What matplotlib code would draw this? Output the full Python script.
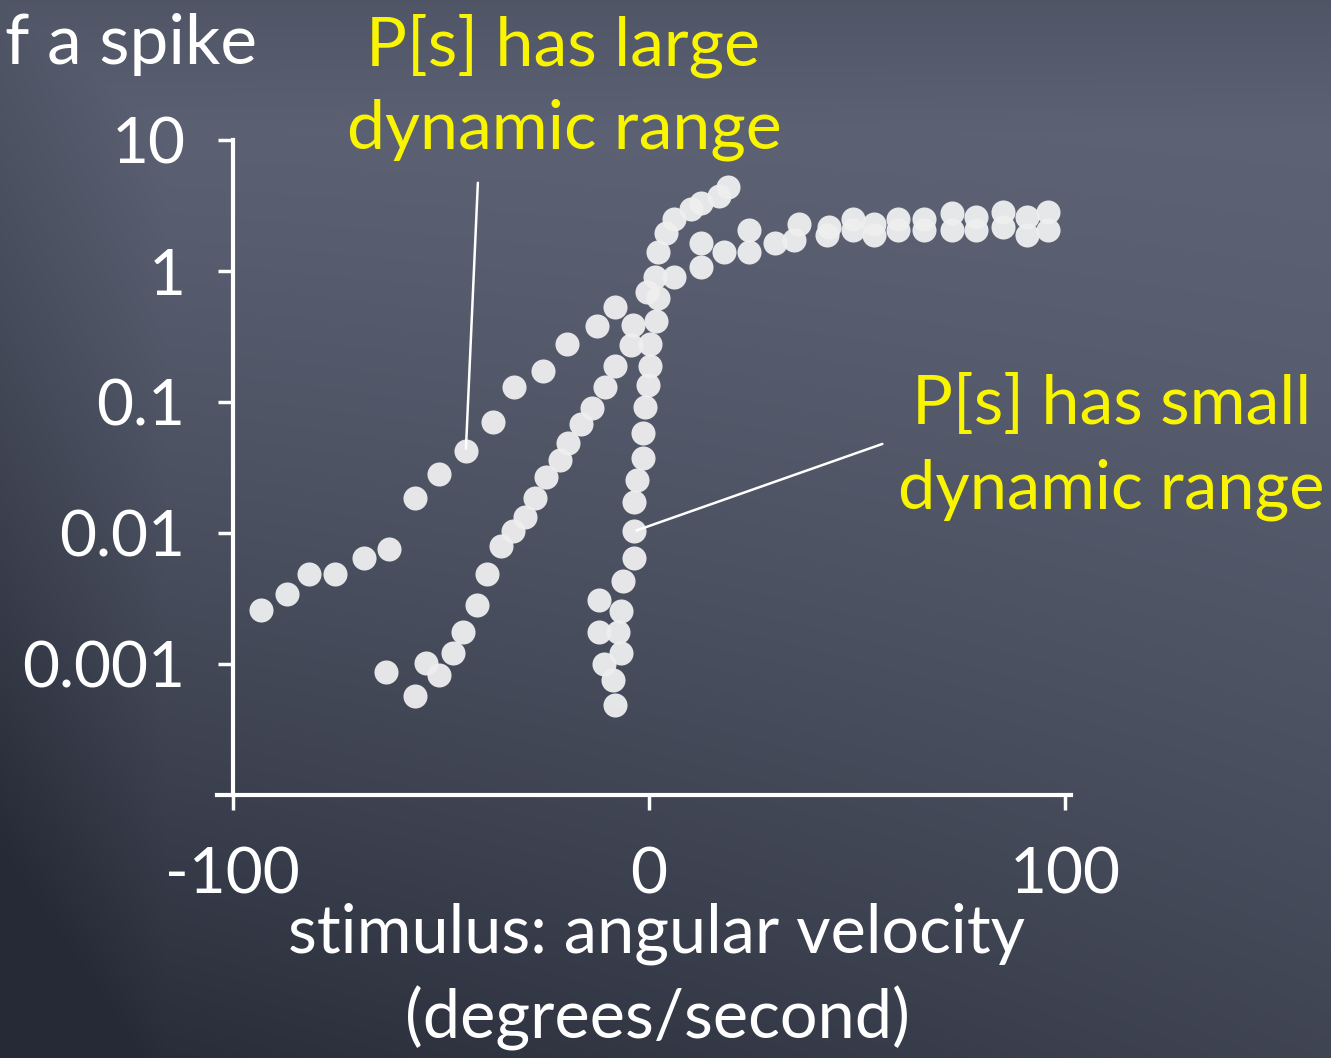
import numpy as np
import matplotlib
matplotlib.use("Agg")
import matplotlib.pyplot as plt

plt.rcParams["font.family"] = ["Lato", "DejaVu Sans"]

# spike probability vs angular velocity, three stimulus ensembles
wide_x = [-93.3, -87.0, -81.7, -75.5, -68.5, -62.5, -56.3, -50.5, -44.0, -37.5,
          -32.5, -25.5, -19.7, -12.5, -8.2, -0.5, 6.0, 12.5, 18.0, 24.0,
          30.3, 34.9, 42.8, 49.0, 54.1, 59.9, 66.1, 72.8, 78.6, 85.1, 90.9, 95.9]
wide_p = [0.00257, 0.0034, 0.0049, 0.0049, 0.0065, 0.0075, 0.0184, 0.028, 0.042, 0.071,
          0.131, 0.173, 0.279, 0.382, 0.533, 0.693, 0.903, 1.08, 1.40, 1.40,
          1.64, 1.73, 1.89, 2.06, 1.89, 2.06, 2.06, 2.06, 2.06, 2.17, 1.89, 2.06]

mid_x = [-63.2, -56.3, -53.6, -50.5, -47.1, -44.7, -41.3, -38.9, -35.6, -32.7,
         -29.8, -27.4, -24.8, -21.4, -19.5, -16.3, -13.7, -10.6, -8.2, -4.3,
         -3.8, 1.4, 12.5, 24.0, 36.1, 43.3, 49.0, 54.1, 59.9, 66.1,
         72.8, 78.6, 85.1, 90.9, 95.9]
mid_p = [0.00087, 0.00057, 0.00101, 0.00082, 0.00121, 0.00175, 0.0028, 0.0049, 0.0079, 0.0103,
         0.0132, 0.0184, 0.0266, 0.0364, 0.0491, 0.0684, 0.0906, 0.131, 0.189, 0.274,
         0.389, 0.903, 1.64, 2.06, 2.29, 2.17, 2.50, 2.29, 2.50, 2.50,
         2.78, 2.59, 2.82, 2.59, 2.82]

narrow_x = [-8.2, -8.7, -10.8, -6.7, -12.0, -7.5, -6.7, -12.0, -6.3, -3.6,
            -3.6, -3.6, -2.9, -1.4, -1.4, -1.0, -0.2, 0.2, 0.2, 1.7,
            2.2, 2.2, 4.1, 6.0, 10.1, 12.5, 16.8, 19.0]
narrow_p = [0.00049, 0.00075, 0.00100, 0.00121, 0.00175, 0.00175, 0.00252, 0.00306, 0.00428, 0.0065,
            0.0103, 0.0174, 0.0256, 0.0377, 0.0585, 0.0923, 0.136, 0.189, 0.279, 0.417,
            0.625, 1.40, 1.95, 2.50, 2.98, 3.31, 3.74, 4.38]

x_ticks = [-100, 0, 100]
y_ticks = [0.001, 0.01, 0.1, 1, 10]
y_ticklabels = ["0.001", "0.01", "0.1", "1", "10"]

fig = plt.figure(figsize=(13.31, 10.58), dpi=100)

# chalkboard backdrop: slate blue, getting darker towards the bottom left
bg = fig.add_axes([0, 0, 1, 1], zorder=-10)
gy, gx = np.mgrid[0:1058, 0:1331]
fy = gy / 1057.0
fx = gx / 1330.0
d = 0.55 * fy ** 1.5 + 0.45 * (1 - fx) * fy ** 1.2
edge = np.clip(np.minimum(fx, fy) * 8, 0, 1)
d = np.clip(d + 0.25 * (1 - edge), 0, 1)
light = np.array([94, 100, 118]) / 255.0
dark = np.array([38, 42, 54]) / 255.0
img = light[None, None, :] * (1 - d[..., None]) + dark[None, None, :] * d[..., None]
bg.imshow(img, aspect="auto", extent=[0, 1, 0, 1])
bg.axis("off")

ax = fig.add_axes([0.163, 0.2486, 0.6416, 0.619])
ax.patch.set_alpha(0)

dot = dict(s=300, color="#efeff0", alpha=0.95, linewidths=0, zorder=3)
ax.scatter(wide_x, wide_p, **dot)
ax.scatter(mid_x, mid_p, **dot)
ax.scatter(narrow_x, narrow_p, **dot)

ax.set_yscale("log")
ax.set_xlim(-103.8, 101.4)
ax.set_ylim(1e-4, 10)
ax.set_xticks(x_ticks)
ax.set_xticklabels([str(v) for v in x_ticks])
ax.set_yticks(y_ticks)
ax.set_yticklabels(y_ticklabels)
ax.yaxis.set_minor_locator(matplotlib.ticker.NullLocator())

for side in ["top", "right"]:
    ax.spines[side].set_visible(False)
ax.spines["left"].set_position(("data", -100))
ax.spines["left"].set_bounds(1e-4, 10)
for side in ["left", "bottom"]:
    ax.spines[side].set_color("white")
    ax.spines[side].set_linewidth(3)
ax.tick_params(colors="white", width=2.5, length=11, direction="out", labelsize=46)
ax.tick_params(axis="x", pad=26)
ax.tick_params(axis="y", pad=23)

fig.text(0.493, 0.117, "stimulus: angular velocity", color="white",
         fontsize=48, ha="center", va="center")
fig.text(0.494, 0.037, "(degrees/second)", color="white",
         fontsize=48, ha="center", va="center")
fig.text(0.004, 0.958, "f a spike", color="white", fontsize=50,
         ha="left", va="center")

yellow = "#f9f400"
fig.text(0.423, 0.957, "P[s] has large", color=yellow, fontsize=49,
         ha="center", va="center")
fig.text(0.424, 0.877, "dynamic range", color=yellow, fontsize=49,
         ha="center", va="center")
fig.text(0.835, 0.617, "P[s] has small", color=yellow, fontsize=49,
         ha="center", va="center")
fig.text(0.835, 0.537, "dynamic range", color=yellow, fontsize=48,
         ha="center", va="center")

# pointer lines from the labels to the curves
ax.annotate("", xy=(-44.0, 0.042), xytext=(478, 1058 - 180),
            textcoords="figure pixels",
            arrowprops=dict(arrowstyle="-", color="white", lw=1.8))
ax.annotate("", xy=(-3.6, 0.0103), xytext=(885, 1058 - 443),
            textcoords="figure pixels",
            arrowprops=dict(arrowstyle="-", color="white", lw=1.8))

fig.savefig("out.png", dpi=100)
